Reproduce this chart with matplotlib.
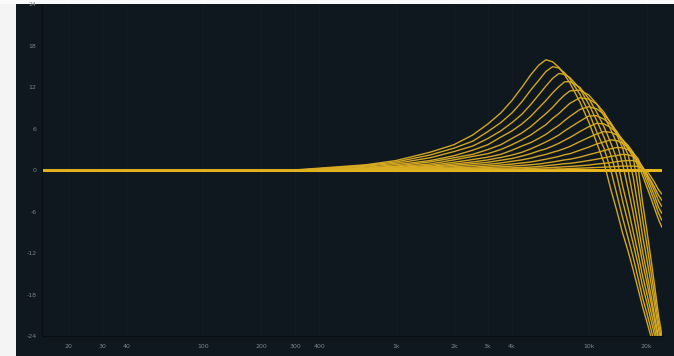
import matplotlib
matplotlib.use("Agg")
import matplotlib.pyplot as plt
from matplotlib.patches import Rectangle

# ---------------- data ----------------
freqs_hz = [15, 200, 300, 500, 700, 1000, 1500, 2000, 2500, 3000, 3500, 4000, 4500,
            5000, 5500, 6000, 6500, 7000, 7500, 8000, 9000, 10000, 11000, 12000,
            13000, 14000, 15000, 16000, 17000, 18000, 19000, 20000, 21000, 22000,
            23000, 24000]

curve_01 = [0, 0, 0.05, 0.5, 0.8, 1.4, 2.6, 3.7, 5.1, 6.7, 8.3, 10.1, 12.0, 13.8, 15.2, 16.0,
            15.7, 14.9, 13.8, 12.6, 9.9, 7.0, 4.0, 1.1, -2.7, -5.9, -9.1, -11.7, -14.4, -17.1,
            -19.7, -21.9, -24.0, -26.0, -28.0, -30.0]
curve_02 = [0, 0, 0, 0.4, 0.7, 1.2, 2.2, 3.2, 4.2, 5.6, 6.9, 8.3, 9.9, 11.6, 13.0, 14.3,
            15.0, 14.8, 14.1, 13.2, 11.0, 8.4, 5.6, 3.2, 0.1, -3.5, -6.9, -9.8, -12.6, -15.5,
            -18.4, -20.6, -22.9, -25.2, -27.5, -29.5]
curve_03 = [0, 0, 0, 0.3, 0.6, 1.0, 1.8, 2.7, 3.5, 4.6, 5.7, 6.9, 8.1, 9.5, 10.9, 12.2,
            13.3, 14.0, 13.9, 13.4, 11.8, 9.6, 7.2, 4.8, 2.3, -0.8, -4.5, -7.6, -10.6, -13.6,
            -16.7, -19.1, -21.6, -24.0, -26.5, -28.5]
curve_04 = [0, 0, 0, 0.2, 0.45, 0.8, 1.4, 2.1, 2.9, 3.7, 4.8, 5.7, 6.7, 7.8, 9.0, 10.1,
            11.2, 12.1, 12.8, 12.85, 12.0, 10.4, 8.4, 6.3, 4.0, 1.6, -2.3, -5.5, -8.8, -12.0,
            -15.2, -17.8, -20.4, -23.0, -25.6, -27.6]
curve_05 = [0, 0, 0, 0.1, 0.35, 0.6, 1.2, 1.8, 2.3, 3.0, 3.7, 4.6, 5.4, 6.3, 7.3, 8.2,
            9.1, 10.1, 10.9, 11.5, 11.6, 10.9, 9.6, 7.9, 5.9, 3.9, 0.9, -2.7, -6.2, -9.8,
            -13.3, -16.2, -19.0, -21.9, -24.7, -26.8]
curve_06 = [0, 0, 0, 0.1, 0.25, 0.5, 0.9, 1.5, 2.0, 2.4, 3.0, 3.7, 4.4, 5.1, 5.9, 6.6,
            7.5, 8.2, 9.0, 9.7, 10.5, 10.3, 9.6, 8.4, 6.8, 5.1, 3.2, 0.0, -3.9, -7.8,
            -11.7, -14.8, -18.0, -21.1, -24.2, -26.5]
curve_07 = [0, 0, 0, 0.1, 0.2, 0.4, 0.7, 1.15, 1.55, 1.9, 2.3, 2.9, 3.5, 4.0, 4.6, 5.2,
            5.9, 6.5, 7.2, 7.8, 8.8, 9.2, 8.9, 8.1, 6.9, 5.5, 3.9, 2.3, -0.95, -5.2,
            -9.4, -12.8, -16.2, -19.6, -23.0, -25.6]
curve_08 = [0, 0, 0, 0.05, 0.15, 0.3, 0.55, 0.9, 1.2, 1.5, 1.85, 2.2, 2.6, 3.1, 3.6, 4.1,
            4.6, 5.1, 5.7, 6.2, 7.1, 7.85, 7.9, 7.4, 6.6, 5.6, 4.3, 3.1, 1.9, -2.2,
            -6.9, -10.7, -14.5, -18.3, -22.1, -25.0]
curve_09 = [0, 0, 0, 0.05, 0.1, 0.25, 0.45, 0.7, 0.95, 1.15, 1.45, 1.7, 2.05, 2.4, 2.8, 3.1,
            3.5, 3.9, 4.35, 4.75, 5.6, 6.3, 6.8, 6.7, 6.2, 5.4, 4.4, 3.4, 2.2, 0.6,
            -4.5, -8.6, -12.7, -16.8, -20.9, -24.0]
curve_10 = [0, 0, 0, 0.05, 0.1, 0.2, 0.35, 0.5, 0.7, 0.85, 1.05, 1.3, 1.5, 1.75, 2.05, 2.3,
            2.6, 2.85, 3.15, 3.45, 4.15, 4.75, 5.25, 5.6, 5.5, 5.1, 4.4, 3.6, 2.6, 1.0,
            -0.7, -2.4, -4.0, -5.6, -7.1, -8.3]
curve_11 = [0, 0, 0, 0, 0.05, 0.15, 0.25, 0.35, 0.45, 0.6, 0.75, 0.9, 1.05, 1.2, 1.4, 1.6,
            1.8, 2.0, 2.25, 2.4, 2.9, 3.35, 3.8, 4.1, 4.4, 4.3, 3.9, 3.3, 2.5, 1.3,
            0.0, -1.6, -3.1, -4.6, -6.2, -7.3]
curve_12 = [0, 0, 0, 0, 0, 0.1, 0.15, 0.25, 0.3, 0.4, 0.5, 0.6, 0.7, 0.8, 0.9, 1.05,
            1.2, 1.35, 1.5, 1.6, 1.9, 2.25, 2.55, 2.85, 3.1, 3.3, 3.25, 3.0, 2.5, 1.7,
            0.3, -1.0, -2.4, -3.8, -5.3, -6.3]
curve_13 = [0, 0, 0, 0, 0, 0.05, 0.1, 0.15, 0.2, 0.25, 0.3, 0.35, 0.4, 0.45, 0.55, 0.65,
            0.75, 0.85, 0.95, 1.0, 1.2, 1.4, 1.6, 1.8, 2.0, 2.15, 2.3, 2.25, 2.0, 1.5,
            0.5, -0.6, -1.8, -3.0, -4.4, -5.3]
curve_14 = [0, 0, 0, 0, 0, 0, 0, 0.05, 0.1, 0.1, 0.15, 0.2, 0.2, 0.25, 0.3, 0.35,
            0.4, 0.45, 0.5, 0.55, 0.65, 0.75, 0.9, 1.0, 1.1, 1.25, 1.35, 1.4, 1.4, 1.2,
            0.5, -0.5, -1.5, -2.5, -3.6, -4.4]
curve_15 = [0, 0, 0, 0, 0, 0, 0, 0, 0, 0.05, 0.05, 0.05, 0.05, 0.1, 0.1, 0.15,
            0.15, 0.2, 0.2, 0.25, 0.3, 0.35, 0.4, 0.45, 0.5, 0.55, 0.6, 0.6, 0.6, 0.55,
            0.3, -0.1, -0.9, -1.8, -2.8, -3.5]
curve_flat = [0] * len(freqs_hz)

curves = [curve_01, curve_02, curve_03, curve_04, curve_05, curve_06, curve_07, curve_08,
          curve_09, curve_10, curve_11, curve_12, curve_13, curve_14, curve_15]

x_ticks = [20, 30, 40, 100, 200, 300, 400, 1000, 2000, 3000, 4000, 10000, 20000]
x_tick_labels = ["20", "30", "40", "100", "200", "300", "400", "1k", "2k", "3k", "4k", "10k", "20k"]
y_ticks = [-24, -18, -12, -6, 0, 6, 12, 18, 24]
y_tick_labels = ["-24", "-18", "-12", "-6", "0", "6", "12", "18", "24"]

# ---------------- figure ----------------
W, H = 674, 356
fig = plt.figure(figsize=(W / 100, H / 100), dpi=100, facecolor="#f4f4f4")

bg = "#0f171f"
fig.patches.append(Rectangle((16 / W, 0), 1 - 16 / W, (H - 4) / H, transform=fig.transFigure,
                             facecolor=bg, edgecolor="none", zorder=-5))
fig.patches.append(Rectangle((0, (H - 4) / H), 1, 4 / H, transform=fig.transFigure,
                             facecolor="#fbfbfb", edgecolor="none", zorder=-5))

ax = fig.add_axes([42 / W, (H - 336) / H, (662 - 42) / W, (336 - 4.5) / H])
ax.set_zorder(1)
ax.set_facecolor(bg)
ax.set_xscale("log")
ax.set_xlim(14.6, 24000)
ax.set_ylim(-24, 24)

line_color = "#dcae22"
for c in curves:
    ax.plot(freqs_hz, c, color=line_color, lw=1.0, alpha=0.95, solid_capstyle="butt")
ax.plot(freqs_hz, curve_flat, color="#e9b51c", lw=2.2, zorder=1)

# faint vertical grid
for xv in x_ticks:
    ax.axvline(xv, color="#131c25", lw=0.8, zorder=0)

ax.set_xticks(x_ticks)
ax.set_xticklabels(x_tick_labels)
ax.set_xticks([], minor=True)
ax.set_yticks(y_ticks)
ax.set_yticklabels(y_tick_labels)
ax.tick_params(axis="both", length=0, labelsize=4.5, labelcolor="#7c858e")
ax.tick_params(axis="x", pad=6)
ax.tick_params(axis="y", pad=4)

for side in ["top", "right"]:
    ax.spines[side].set_visible(False)
ax.spines["bottom"].set_color("#080d12")
ax.spines["bottom"].set_linewidth(0.8)
ax.spines["left"].set_color("#0b1117")
ax.spines["left"].set_linewidth(0.8)

fig.savefig("out.png", dpi=100, facecolor=fig.get_facecolor())
